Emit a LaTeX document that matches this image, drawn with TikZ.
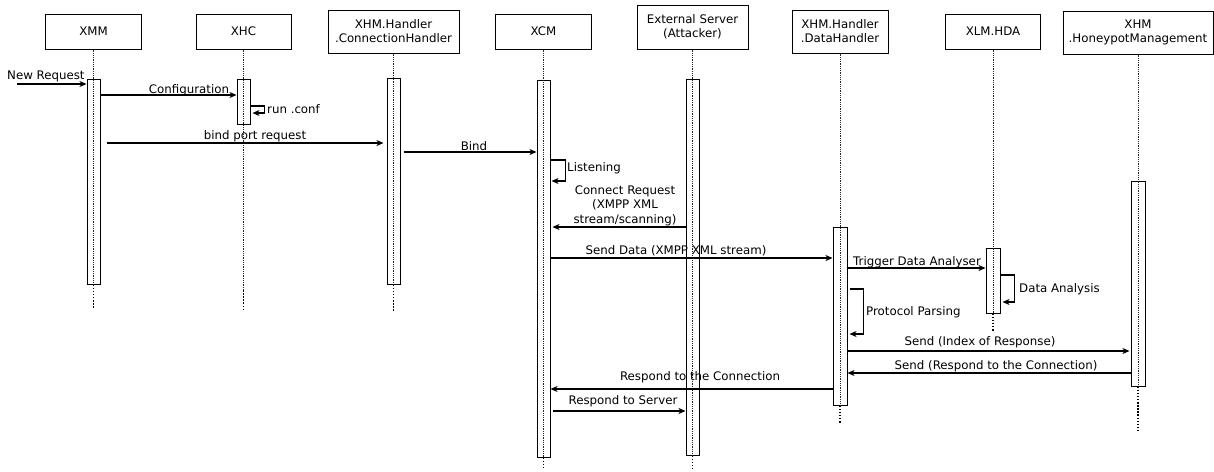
\documentclass[tikz,border=0pt]{standalone}
\usepackage{fontspec}
\setmainfont{DejaVu Sans}
\usetikzlibrary{arrows.meta}
\begin{document}
\begin{tikzpicture}[x=1pt,y=-1pt,
  every node/.style={font=\fontsize{11.8pt}{14.2pt}\selectfont},
  head/.style={draw,line width=1pt,align=center,inner sep=0pt,minimum height=35pt},
  actbar/.style={draw,line width=1pt,inner sep=0pt,minimum width=13pt},
  thinlife/.style={line width=0.9pt,dash pattern=on 1pt off 0.8pt,black!85},
  thicklife/.style={line width=1.5pt,dash pattern=on 1.5pt off 1.6pt},
  msg/.style={line width=1.2pt,-{Stealth[length=7pt,width=6pt,inset=2pt]}},
  lbl/.style={anchor=base,inner sep=0pt},
  lblw/.style={anchor=base west,inner sep=0pt}]
\useasboundingbox (0,0) rectangle (1214,471);

% heads
\node[head,minimum width=96pt] (hXMM) at (93.5,31.5) {XMM};
\node[head,minimum width=95pt] (hXHC) at (243.5,31.5) {XHC};
\node[head,minimum width=131pt,minimum height=43pt] (hCH) at (393.5,31.5) {XHM.Handler\\.ConnectionHandler};
\node[head,minimum width=96pt] (hXCM) at (543.5,31.5) {XCM};
\node[head,minimum width=111pt,minimum height=44pt] (hExt) at (692.5,27) {External Server\\(Attacker)};
\node[head,minimum width=96pt,minimum height=43pt] (hDH) at (840,31.5) {XHM.Handler\\.DataHandler};
\node[head,minimum width=95pt] (hHDA) at (993,31.5) {XLM.HDA};
\node[head,minimum width=150pt,minimum height=43pt] (hHM) at (1138,32.5) {XHM\\.HoneypotManagement};

% activation bars
\node[actbar,minimum height=205pt] (bXMM) at (93.5,181.5) {};
\node[actbar,minimum height=45pt] (bXHC) at (243.5,101.5) {};
\node[actbar,minimum height=206pt] (bCH) at (393.5,181) {};
\node[actbar,minimum height=377pt] (bXCM) at (543.5,268.5) {};
\node[actbar,minimum height=376pt] (bExt) at (692.5,267) {};
\node[actbar,minimum width=14pt,minimum height=178pt] (bDH) at (840,316) {};
\node[actbar,minimum width=14pt,minimum height=65pt] (bHDA) at (993,280.5) {};
\node[actbar,minimum width=14pt,minimum height=205pt] (bHM) at (1138,283.5) {};

% lifeline ends
\coordinate (eXMM) at (93.5,309);
\coordinate (mXHC) at (243.5,290);
\coordinate (eXHC) at (243.5,310);
\coordinate (eCH) at (393.5,311);
\coordinate (eXCM) at (543.5,468);
\coordinate (eExt) at (692.5,470);
\coordinate (eDH) at (840,423);
\coordinate (eHDA) at (993,332);
\coordinate (eHM) at (1138,431);

% lifelines
\draw[thinlife] (hXMM.south) -- (bXMM.south);
\draw[thicklife] (bXMM.south) -- (eXMM);
\draw[thinlife] (hXHC.south) -- (mXHC);
\draw[thicklife] (mXHC) -- (eXHC);
\draw[thinlife] (hCH.south) -- (bCH.south);
\draw[thicklife] (bCH.south) -- (eCH);
\draw[thinlife] (hXCM.south) -- (bXCM.south);
\draw[thicklife] (bXCM.south) -- (eXCM);
\draw[thinlife] (hExt.south) -- (bExt.south);
\draw[thicklife] (bExt.south) -- (eExt);
\draw[thinlife] (hDH.south) -- (bDH.south);
\draw[thicklife] (bDH.south) -- (eDH);
\draw[thinlife] (hHDA.south) -- (bHDA.south);
\draw[thicklife] (bHDA.south) -- (eHDA);
\draw[thinlife] (hHM.south) -- (bHM.south);
\draw[thicklife] (bHM.south) -- (eHM);

% messages
\coordinate (nrStart) at (17,84);
\draw[msg] (nrStart) -- (bXMM.west |- 0,84);
\node[lblw] (lNR) at (7,79) {New Request};

\draw[msg] (bXMM.east |- 0,95) -- (bXHC.west |- 0,95);
\node[lbl] (lConf) at (189,93) {Configuration};

\draw[msg] (bXHC.east |- 0,106) -- ++(14,0) -- ++(0,7) -- ([xshift=2pt]bXHC.east |- 0,113);
\node[lblw] (lRun) at (267,113) {run .conf};

\draw[msg] ([xshift=6pt]bXMM.east |- 0,143) -- ([xshift=-3pt]bCH.west |- 0,143);
\node[lbl] (lBPR) at (255,139) {bind port request};

\draw[msg] ([xshift=3pt]bCH.east |- 0,152) -- (bXCM.west |- 0,152);
\node[lbl] (lBind) at (474,150) {Bind};

\draw[msg] (bXCM.east |- 0,160) -- ++(15,0) -- ++(0,21) -- ([xshift=1pt]bXCM.east |- 0,181);
\node[lblw] (lListen) at (567,171) {Listening};

\draw[msg] (bExt.west |- 0,227) -- ([xshift=2pt]bXCM.east |- 0,227);
\node[lbl] (lCR1) at (625,194) {Connect Request};
\node[lbl] (lCR2) at (625,208.5) {(XMPP XML};
\node[lbl] (lCR3) at (625,223) {stream/scanning)};

\draw[msg] (bXCM.east |- 0,258) -- (bDH.west |- 0,258);
\node[lbl] (lSD) at (676,254) {Send Data (XMPP XML stream)};

\draw[msg] (bDH.east |- 0,268) -- (bHDA.west |- 0,268);
\node[lbl] (lTDA) at (917,265) {Trigger Data Analyser};

\draw[msg] (bHDA.east |- 0,275) -- ++(14,0) -- ++(0,27) -- ([xshift=2pt]bHDA.east |- 0,302);
\node[lblw] (lDA) at (1019,292) {Data Analysis};

\draw[msg] ([xshift=2pt]bDH.east |- 0,289) -- ++(14,0) -- ++(0,45) -- ([xshift=2pt]bDH.east |- 0,334);
\node[lblw] (lPP) at (866,315) {Protocol Parsing};

\draw[msg] (bDH.east |- 0,351) -- ([xshift=-1pt]bHM.west |- 0,351);
\node[lbl] (lSI) at (980,345) {Send (Index of Response)};

\draw[msg] (bHM.west |- 0,373) -- (bDH.east |- 0,373);
\node[lbl] (lSR) at (996,369) {Send (Respond to the Connection)};

\draw[msg] (bDH.west |- 0,389) -- (bXCM.east |- 0,389);
\node[lbl] (lRC) at (700,380) {Respond to the Connection};

\draw[msg] ([xshift=2pt]bXCM.east |- 0,411) -- (bExt.west |- 0,411);
\node[lbl] (lRS) at (623,404) {Respond to Server};
\end{tikzpicture}
\end{document}
